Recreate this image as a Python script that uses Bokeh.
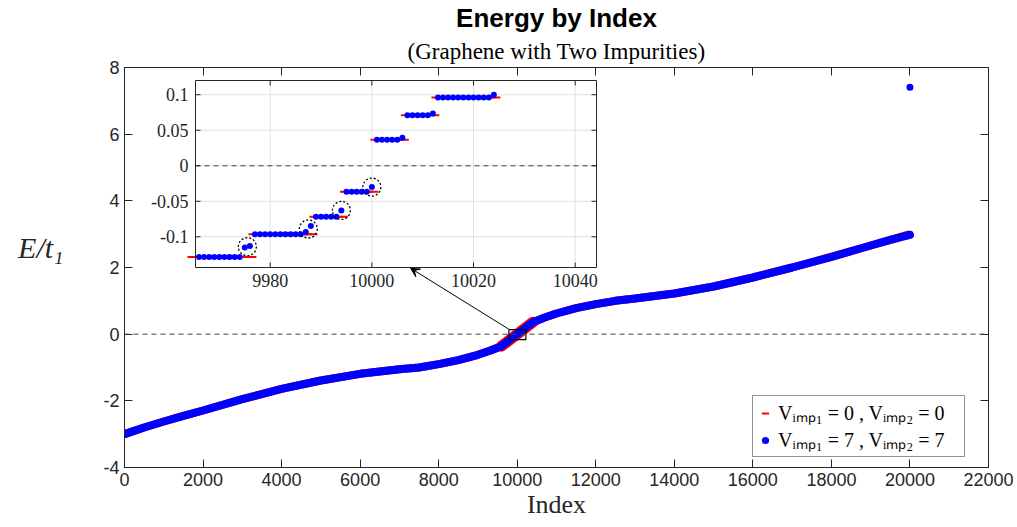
import math
from bokeh.plotting import figure
from bokeh.models import (Range1d, LinearAxis, FixedTicker, Span, Arrow, VeeHead,
                          Legend, LegendItem, Title)
from bokeh.embed import file_html
from bokeh.resources import INLINE

# ---------------- data ----------------
main_index = [0, 500, 1000, 1500, 2000, 3000, 4000, 5000, 6000, 7000, 7500, 8000,
              8500, 9000, 9300, 9600, 9800, 10000, 10200, 10400, 10700, 11000,
              11500, 12000, 12500, 13000, 14000, 15000, 16000, 17000, 18000,
              19000, 19500, 20000]
E_v0 = [-3.00, -2.80, -2.62, -2.45, -2.29, -1.95, -1.64, -1.39, -1.19, -1.05, -1.00,
        -0.90, -0.78, -0.62, -0.50, -0.36, -0.18, 0.00, 0.18, 0.36, 0.50, 0.62,
        0.78, 0.90, 1.00, 1.07, 1.22, 1.43, 1.70, 2.00, 2.32, 2.66, 2.83, 3.00]
E_v7 = [-3.00, -2.80, -2.62, -2.45, -2.29, -1.95, -1.64, -1.39, -1.19, -1.05, -1.00,
        -0.90, -0.78, -0.62, -0.50, -0.36, -0.18, 0.00, 0.18, 0.36, 0.50, 0.62,
        0.78, 0.90, 1.00, 1.07, 1.22, 1.43, 1.70, 2.00, 2.32, 2.66, 2.83, 2.98]
outlier_index = [20000]
outlier_E = [7.41]

inset_red_index = list(range(9965, 10025))
inset_red_E = ([-0.1284] * 12 + [-0.0965] * 12 + [-0.0716] * 6 + [-0.0365] * 6 +
               [0.0365] * 6 + [0.0711] * 6 + [0.0959] * 12)
inset_blue_index = list(range(9966, 10025))
inset_blue_E = ([-0.1284] * 9 + [-0.1150, -0.1129] +
                [-0.0965] * 10 + [-0.0932, -0.0848] +
                [-0.0716] * 5 + [-0.0628] +
                [-0.0365] * 5 + [-0.0300] +
                [0.0365] * 5 + [0.0393] +
                [0.0711] * 5 + [0.0737] +
                [0.0959] * 11 + [0.1001])
circled_groups = [[9975, 9976], [9987, 9988], [9994], [10000]]

main_xticks = list(range(0, 22001, 2000))
main_yticks = [-4, -2, 0, 2, 4, 6, 8]
main_ylabels = ["-4", "-2", "0", "2", "4", "6", "8"]
inset_xticks = [9980, 10000, 10020, 10040]
inset_xlabels = ["9980", "10000", "10020", "10040"]
inset_yticks = [-0.1, -0.05, 0, 0.05, 0.1]
inset_ylabels = ["-0.1", "-0.05", "0", "0.05", "0.1"]

INK = "#262626"
SANS = "Liberation Sans"
SERIF = "Liberation Serif"


def style_axis(ax, size, tick_in, labels=True):
    ax.axis_line_color = INK
    ax.major_tick_line_color = INK
    ax.minor_tick_line_color = None
    ax.major_tick_in = tick_in
    ax.major_tick_out = 0
    ax.major_label_text_color = INK
    ax.major_label_text_font = SANS
    if labels:
        ax.major_label_text_font_size = size
        ax.major_label_standoff = 5
    else:
        ax.major_label_text_font_size = "0px"
        ax.major_label_text_alpha = 0
        ax.major_label_standoff = 0


# ---------------- main figure ----------------
p = figure(width=1017, height=527, x_range=Range1d(0, 22000), y_range=Range1d(-4, 8),
           output_backend="svg", toolbar_location=None, title_location=None,
           min_border_left=124, min_border_right=29, min_border_top=67,
           min_border_bottom=60)
p.outline_line_color = INK
p.xgrid.visible = False
p.ygrid.visible = False
p.xaxis.ticker = FixedTicker(ticks=main_xticks)
p.yaxis.ticker = FixedTicker(ticks=main_yticks)
p.yaxis.major_label_overrides = {v: s for v, s in zip(main_yticks, main_ylabels)}
style_axis(p.xaxis[0], "18px", 8)
style_axis(p.yaxis[0], "18px", 8)
p.xaxis.axis_label = "Index"
p.xaxis.axis_label_text_font = SERIF
p.xaxis.axis_label_text_font_style = "normal"
p.xaxis.axis_label_text_font_size = "26px"
p.xaxis.axis_label_text_color = INK
p.xaxis.axis_label_standoff = 1
p.yaxis.axis_label = "E/t\u2081\n"
p.yaxis.axis_label_orientation = "horizontal"
p.yaxis.axis_label_text_font = SERIF
p.yaxis.axis_label_text_font_style = "italic"
p.yaxis.axis_label_text_font_size = "30px"
p.yaxis.axis_label_text_color = INK
p.yaxis.axis_label_standoff = 37

top_ax = LinearAxis(ticker=FixedTicker(ticks=main_xticks))
style_axis(top_ax, "0px", 8, labels=False)
p.add_layout(top_ax, "above")
right_ax = LinearAxis(ticker=FixedTicker(ticks=main_yticks))
style_axis(right_ax, "0px", 8, labels=False)
p.add_layout(right_ax, "right")

p.add_layout(Title(text="(Graphene with Two Impurities)", align="center",
                   text_font=SERIF, text_font_style="normal", text_font_size="23px",
                   text_color="black", standoff=8), "above")
p.add_layout(Title(text="Energy by Index", align="center", text_font=SANS,
                   text_font_style="bold", text_font_size="26px",
                   text_color="black", standoff=0), "above")

p.add_layout(Span(location=0, dimension="width", line_color="#444444",
                  line_dash="5 4", line_width=1))

p.line(main_index, E_v0, line_color="red", line_width=8)
mid = [i for i, x in enumerate(main_index) if 9600 <= x <= 10400]
p.line([main_index[i] for i in mid], [E_v0[i] for i in mid],
       line_color="red", line_width=11, line_cap="round")
p.line(main_index, E_v7, line_color="blue", line_width=8, line_cap="round")
r_blue = p.scatter(outlier_index, outlier_E, size=7, fill_color="blue",
                   line_color=None)

# ---------------- inset (drawn in a sub-coordinate system) ----------------
x0, x1 = 9965.3, 10044.2
y0, y1 = -0.1432, 0.12
# where the inset frame sits, in the main plot's data units
tgt_x = (1808, 12019)
tgt_y = (2.0, 7.61)

p.rect(x=[(x0 + x1) / 2], y=[(y0 + y1) / 2], width=17, height=10,
       width_units="screen", height_units="screen", fill_color=None,
       line_color="black", line_width=1.2)
p.add_layout(Arrow(end=VeeHead(size=9, line_color="black", fill_color="black"),
                   x_start=9784, y_start=0.15, x_end=7283, y_end=tgt_y[0] - 0.02,
                   line_color="black", line_width=1))

s = p.subplot(x_source=Range1d(x0, x1), y_source=Range1d(y0, y1),
              x_target=Range1d(*tgt_x), y_target=Range1d(*tgt_y))

s.quad(left=[x0], right=[x1], bottom=[y0], top=[y1], fill_color="white",
       line_color=None)
GRID = "#e2e2e2"
s.segment(x0=inset_xticks, y0=[y0] * 4, x1=inset_xticks, y1=[y1] * 4,
          line_color=GRID, line_width=1)
s.segment(x0=[x0] * 5, y0=inset_yticks, x1=[x1] * 5, y1=inset_yticks,
          line_color=GRID, line_width=1)
s.segment(x0=[x0], y0=[0], x1=[x1], y1=[0], line_color="#444444", line_dash="5 4",
          line_width=1)

r_red = s.scatter(inset_red_index, inset_red_E, marker="dash", size=13,
                  line_color="red", line_width=2)
s.scatter(inset_blue_index, inset_blue_E, size=6, fill_color="blue", line_color=None)

cx, cy = [], []
for g in circled_groups:
    vals = [inset_blue_E[inset_blue_index.index(i)] for i in g]
    cx.append(sum(g) / len(g))
    cy.append(sum(vals) / len(vals))
s.scatter(cx, cy, size=18, fill_color=None, line_color="black", line_dash="2 2",
          line_width=1.3)

# inset frame, ticks and tick labels
s.quad(left=[x0], right=[x1], bottom=[y0], top=[y1], fill_color=None,
       line_color=INK, line_width=1)
s.ray(x=inset_xticks, y=[y0] * 4, length=5, angle=math.pi / 2,
      length_units="screen", line_color=INK)
s.ray(x=inset_xticks, y=[y1] * 4, length=5, angle=-math.pi / 2,
      length_units="screen", line_color=INK)
s.ray(x=[x0] * 5, y=inset_yticks, length=5, angle=0,
      length_units="screen", line_color=INK)
s.ray(x=[x1] * 5, y=inset_yticks, length=5, angle=math.pi,
      length_units="screen", line_color=INK)
s.text(x=inset_xticks, y=[y0] * 4, text=inset_xlabels, y_offset=6,
       text_align="center", text_baseline="top", text_font=SANS,
       text_font_size="18px", text_color=INK)
s.text(x=[x0] * 5, y=inset_yticks, text=inset_ylabels, x_offset=-7,
       text_align="right", text_baseline="middle", text_font=SANS,
       text_font_size="18px", text_color=INK)

legend = Legend(items=[
    LegendItem(label="V\u1d62\u2098\u209a\u2081 = 0 , V\u1d62\u2098\u209a\u2082 = 0", renderers=[r_red]),
    LegendItem(label="V\u1d62\u2098\u209a\u2081 = 7 , V\u1d62\u2098\u209a\u2082 = 7", renderers=[r_blue]),
], location=(628, 10))
legend.label_text_font = SERIF
legend.label_text_font_size = "20px"
legend.label_text_color = "black"
legend.label_height = 22
legend.label_width = 183
legend.glyph_height = 22
legend.border_line_color = INK
legend.border_line_width = 1
legend.background_fill_color = "white"
legend.background_fill_alpha = 1
legend.padding = 3
legend.spacing = 0
legend.margin = 0
legend.glyph_width = 18
legend.label_standoff = 4
p.add_layout(legend, "center")

open("out.html", "w").write(file_html(p, INLINE))
